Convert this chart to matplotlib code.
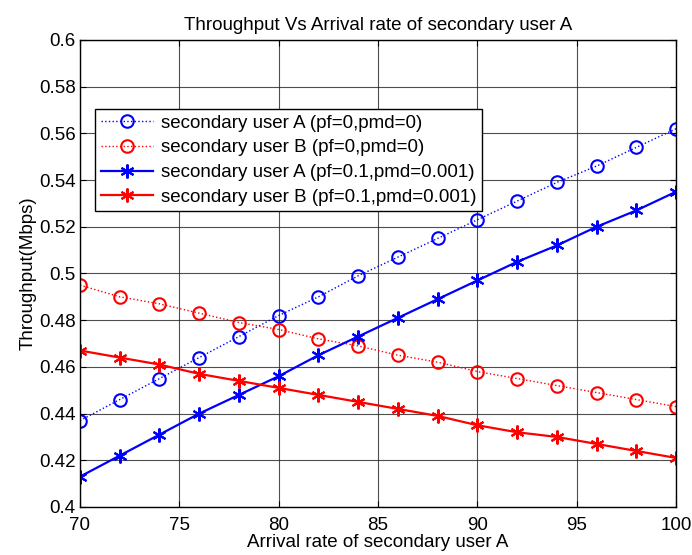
import numpy as np
import matplotlib
matplotlib.use("Agg")
import matplotlib.pyplot as plt

arrival = [70, 72, 74, 76, 78, 80, 82, 84, 86, 88, 90, 92, 94, 96, 98, 100]
su_a_ideal = [0.437, 0.446, 0.455, 0.464, 0.473, 0.482, 0.490, 0.499,
              0.507, 0.515, 0.523, 0.531, 0.539, 0.546, 0.554, 0.562]
su_b_ideal = [0.495, 0.490, 0.487, 0.483, 0.479, 0.476, 0.472, 0.469,
              0.465, 0.462, 0.458, 0.455, 0.452, 0.449, 0.446, 0.443]
su_a_err = [0.413, 0.422, 0.431, 0.440, 0.448, 0.456, 0.465, 0.473,
            0.481, 0.489, 0.497, 0.505, 0.512, 0.520, 0.527, 0.535]
su_b_err = [0.467, 0.464, 0.461, 0.457, 0.454, 0.451, 0.448, 0.445,
            0.442, 0.439, 0.435, 0.432, 0.430, 0.427, 0.424, 0.421]
labels = ["secondary user A (pf=0,pmd=0)",
          "secondary user B (pf=0,pmd=0)",
          "secondary user A (pf=0.1,pmd=0.001)",
          "secondary user B (pf=0.1,pmd=0.001)"]

plt.rcParams["font.family"] = ["Liberation Sans", "DejaVu Sans"]
fs = 13.5

fig = plt.figure(figsize=(6.92, 5.55), dpi=100)
ax = fig.add_axes([0.1156, 0.0865, 0.8614, 0.8415])

# matlab-style asterisk marker
star = (6, 2, 0)

ax.plot(arrival, su_a_ideal, ":", color="blue", marker="o", ms=9, mfc="none",
        mew=1.5, lw=1, label=labels[0])
ax.plot(arrival, su_b_ideal, ":", color="red", marker="o", ms=9, mfc="none",
        mew=1.5, lw=1, label=labels[1])
ax.plot(arrival, su_a_err, "-", color="blue", marker=star, ms=10,
        mew=1.5, lw=1.6, label=labels[2])
ax.plot(arrival, su_b_err, "-", color="red", marker=star, ms=10,
        mew=1.5, lw=1.6, label=labels[3])

ax.set_xlim(70, 100)
ax.set_ylim(0.4, 0.6)
ax.set_xticks(np.arange(70, 101, 5))
ax.set_yticks(np.arange(0.4, 0.601, 0.02))
ax.set_yticklabels(["0.4", "0.42", "0.44", "0.46", "0.48", "0.5", "0.52",
                    "0.54", "0.56", "0.58", "0.6"])
ax.grid(True, color="#222222", linestyle="-", lw=0.8, alpha=0.8)
ax.set_axisbelow(True)
ax.tick_params(direction="in", length=4, labelsize=fs, top=True, right=True)
ax.tick_params(axis="x", pad=7)
ax.tick_params(axis="y", pad=3)
for s in ax.spines.values():
    s.set_linewidth(1.0)

ax.set_title("Throughput Vs Arrival rate of secondary user A", fontsize=fs, pad=7)
ax.set_xlabel("Arrival rate of secondary user A", fontsize=fs, labelpad=0)
ax.set_ylabel("Throughput(Mbps)", fontsize=fs, labelpad=2)

leg = ax.legend(loc="upper left", bbox_to_anchor=(0.025, 0.852),
                borderaxespad=0, fontsize=fs, fancybox=False, framealpha=1,
                edgecolor="black", handlelength=2.8, borderpad=0.3,
                labelspacing=0.4, handletextpad=0.4)
leg.get_frame().set_linewidth(1.0)

fig.savefig("out.png", dpi=100)
